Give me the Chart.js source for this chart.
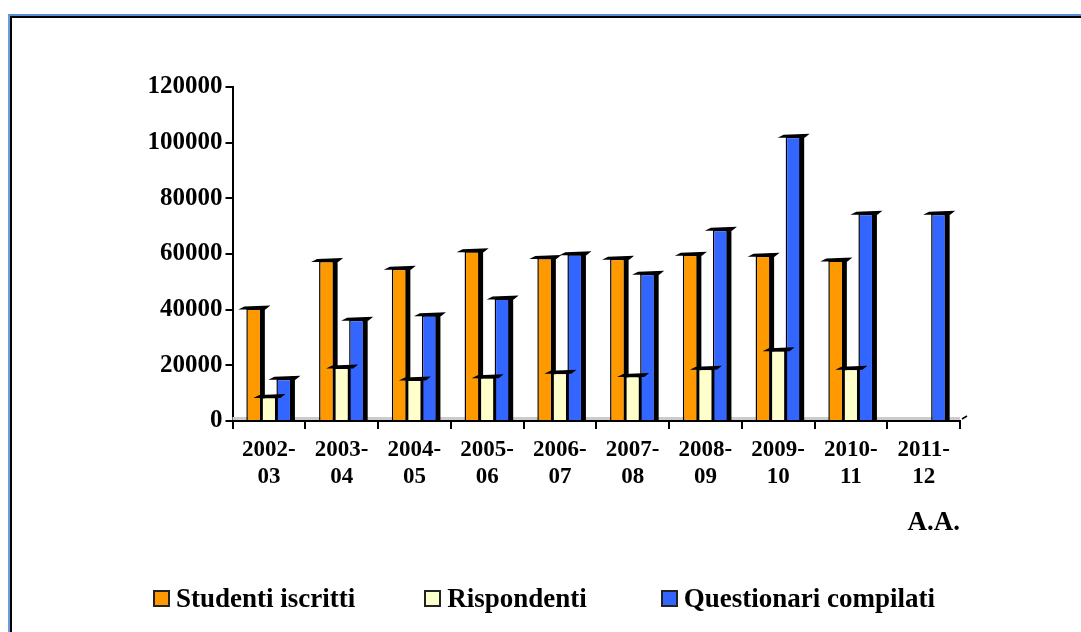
<!DOCTYPE html>
<html>
<head>
<meta charset="utf-8">
<script src="https://cdn.jsdelivr.net/npm/chart.js@4.4.1/dist/chart.umd.min.js"></script>
<style>
   html, body { margin: 0; padding: 0; width: 1081px; height: 632px; overflow: hidden; background: #fff; }
   #frame { position: absolute; left: 8px; top: 14px; right: -10px; bottom: -10px; border-top: 2px solid #5b8ed6; border-left: 2px solid #6a9ce0; }
   #frame-inner { position: absolute; left: 0; top: 0; right: 0; bottom: 0; border-top: 2px solid #000; border-left: 2px solid #000; }
   #wrap { position: absolute; left: 0; top: 0; width: 1081px; height: 632px; }
   #legend { position: absolute; left: 153px; top: 583px; display: flex; font: bold 27px "Liberation Serif", "Times New Roman", serif; line-height: 30px; color: #000; }
   .item { display: flex; align-items: center; }
   .item + .item { margin-left: 69px; }
   .item:last-child { margin-left: 74px; }
   .box { width: 13px; height: 13px; border: 2px solid #222; margin-right: 6px; }
</style>
</head>
<body>
<div id="frame"><div id="frame-inner"></div></div>
<div id="wrap"><canvas id="chart"></canvas></div>
<div id="legend"></div>
<script>
// Data
const categories = [
   ["2002-", "03"], ["2003-", "04"], ["2004-", "05"], ["2005-", "06"], ["2006-", "07"],
   ["2007-", "08"], ["2008-", "09"], ["2009-", "10"], ["2010-", "11"], ["2011-", "12"],
];
const studentiIscritti = [40400, 57500, 54700, 61000, 58600, 58300, 59700, 59400, 57700, null];
const rispondenti = [8600, 19200, 14900, 15700, 17300, 16200, 18800, 25400, 18800, null];
const questionariCompilati = [15200, 36400, 38000, 44000, 59900, 52900, 68700, 102100, 74500, 74500];
const seriesNames = ["Studenti iscritti", "Rispondenti", "Questionari compilati"];
const seriesColors = ["#ff9900", "#ffffcc", "#3366ff"];
const yTicks = [0, 20000, 40000, 60000, 80000, 100000, 120000];

const FONT = '"Liberation Serif", "Times New Roman", serif';

// fake 3D look: dark right side, grey floor, dark top edge
const bar3d = {
   id: "bar3d",
   beforeDatasetsDraw(chart) {
      const { ctx, chartArea } = chart;
      const base = chart.scales.y.getPixelForValue(0);
      ctx.save();
      ctx.fillStyle = "#cccccc";
      ctx.fillRect(chartArea.left, base - 4, chartArea.right - chartArea.left, 3);
      ctx.strokeStyle = "#000";
      ctx.lineWidth = 1.5;
      ctx.beginPath();
      ctx.moveTo(chartArea.right + 2, base - 2);
      ctx.lineTo(chartArea.right + 7, base - 5);
      ctx.stroke();
      ctx.fillStyle = "#000";
      chart.data.datasets.forEach((ds, i) => {
         chart.getDatasetMeta(i).data.forEach((bar, j) => {
            if (ds.data[j] == null) return;
            const r = bar.x + bar.width / 2;
            ctx.fillRect(r - 1.5, bar.y - 2, 5, bar.base - bar.y + 2);
         });
      });
      ctx.restore();
   },
   afterDatasetsDraw(chart) {
      const { ctx } = chart;
      ctx.save();
      ctx.fillStyle = "#000";
      chart.data.datasets.forEach((ds, i) => {
         chart.getDatasetMeta(i).data.forEach((bar, j) => {
            if (ds.data[j] == null) return;
            const l = bar.x - bar.width / 2;
            const r = bar.x + bar.width / 2;
            const t = bar.y;
            ctx.beginPath();
            ctx.moveTo(l - 8, t + 1);
            ctx.lineTo(l - 2, t - 2);
            ctx.lineTo(r + 9, t - 3);
            ctx.lineTo(r + 4, t + 1);
            ctx.closePath();
            ctx.fill();
         });
      });
      ctx.restore();
   },
};

const seriesData = [studentiIscritti, rispondenti, questionariCompilati];

const ctx = document.getElementById("chart").getContext("2d");
const chart = new Chart(ctx, {
   type: "bar",
   data: {
      labels: categories,
      datasets: seriesData.map((values, i) => ({
         label: seriesNames[i],
         data: values,
         backgroundColor: seriesColors[i],
         borderColor: "#000",
         borderWidth: 1.5,
         borderSkipped: "bottom",
      })),
   },
   options: {
      responsive: true,
      maintainAspectRatio: false,
      animation: false,
      layout: { padding: { top: 87, right: 121, bottom: 93, left: 0 } },
      categoryPercentage: 0.62,
      barPercentage: 1.0,
      plugins: {
         legend: { display: false },
         tooltip: { enabled: false },
      },
      scales: {
         x: {
            grid: { drawOnChartArea: false, color: "#000", lineWidth: 2, tickLength: 8, offset: true },
            border: { color: "#000", width: 2 },
            ticks: {
               color: "#000",
               font: { family: FONT, size: 23, weight: "bold", lineHeight: 1.15 },
               padding: 8,
               maxRotation: 0,
               autoSkip: false,
            },
            title: {
               display: true,
               text: "A.A.",
               align: "end",
               color: "#000",
               font: { family: FONT, size: 27, weight: "bold" },
               padding: 0,
            },
            afterFit: (scale) => { scale.height = 118; },
         },
         y: {
            min: yTicks[0],
            max: yTicks[yTicks.length - 1],
            grid: { drawOnChartArea: false, color: "#000", lineWidth: 2, tickLength: 7 },
            border: { color: "#000", width: 2 },
            ticks: {
               stepSize: yTicks[1] - yTicks[0],
               color: "#000",
               font: { family: FONT, size: 25, weight: "bold" },
               padding: 3,
               callback: (value) => String(value),
            },
            afterFit: (scale) => { scale.width = 232.5; },
         },
      },
   },
   plugins: [bar3d],
});

// html legend built from the series arrays
const legend = document.getElementById("legend");
seriesNames.forEach((name, i) => {
   const item = document.createElement("div");
   item.className = "item";
   const box = document.createElement("span");
   box.className = "box";
   box.style.background = seriesColors[i];
   item.appendChild(box);
   const text = document.createElement("span");
   text.textContent = name;
   item.appendChild(text);
   legend.appendChild(item);
});
</script>
</body>
</html>
